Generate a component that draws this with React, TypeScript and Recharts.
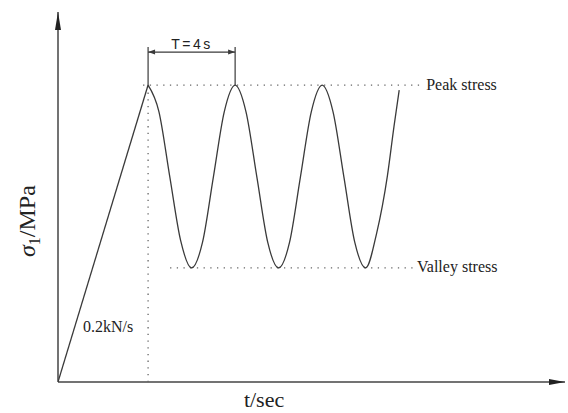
import { LineChart, Line, XAxis, YAxis, ReferenceLine, ReferenceDot } from "recharts"

// loading ramp (0.2kN/s) up to the first peak
const rampTime = [0, 4.14]
const rampStress = [0, 100]

// cyclic part, T = 4 s
const waveTime = [
  4.14, 4.64, 5.14, 5.64, 6.14, 6.64, 7.14, 7.64,
  8.14, 8.64, 9.14, 9.64, 10.14, 10.64, 11.14, 11.64,
  12.14, 12.64, 13.14, 13.64, 14.14, 14.64, 15.14, 15.44, 15.68,
]
const waveStress = [
  100, 91, 69, 47.5, 38.4, 47, 69, 91,
  100, 91, 69, 47, 38.4, 47, 69, 91,
  100, 91, 69, 47, 38.4, 50, 69.5, 86, 98.3,
]

const peakStress = 100
const valleyStress = 38.4
const periodStart = 4.14
const periodEnd = 8.14

const rampData = rampTime.map((t, i) => ({ t, s: rampStress[i] }))
const waveData = waveTime.map((t, i) => ({ t, s: waveStress[i] }))

const X_MAX = 23.3
const Y_MAX = 124.6

const ink = "#3a3a3a"
const dots = "#666"
const serif = "'Liberation Serif', 'Times New Roman', serif"

const label = (content: (cx: number, cy: number) => any) => (p: any) => content(p.cx, p.cy)

export default function App() {
  return (
    <div style={{ position: "absolute", left: 0, top: 0, background: "#fff" }}>
      <LineChart
        width={568}
        height={413}
        margin={{ top: 12, right: 3, bottom: 31, left: 58 }}
      >
        <XAxis dataKey="t" type="number" domain={[0, X_MAX]} hide allowDataOverflow />
        <YAxis type="number" domain={[0, Y_MAX]} hide allowDataOverflow />

        {/* axes */}
        <ReferenceLine segment={[{ x: 0, y: 0 }, { x: X_MAX, y: 0 }]} stroke="#444" strokeWidth={1.5} ifOverflow="visible" />
        <ReferenceLine segment={[{ x: 0, y: 0 }, { x: 0, y: Y_MAX }]} stroke="#444" strokeWidth={1.5} ifOverflow="visible" />
        <ReferenceDot x={0} y={Y_MAX} ifOverflow="visible"
          shape={label((cx, cy) => <polygon points={`${cx},${cy} ${cx - 3},${cy + 18} ${cx + 3},${cy + 18}`} fill="#222" />)} />
        <ReferenceDot x={X_MAX} y={0} ifOverflow="visible"
          shape={label((cx, cy) => <polygon points={`${cx},${cy} ${cx - 16},${cy - 3} ${cx - 16},${cy + 3}`} fill="#222" />)} />

        {/* guide lines */}
        <ReferenceLine segment={[{ x: 3.91, y: peakStress }, { x: 16.78, y: peakStress }]} stroke={dots} strokeWidth={1.3} strokeDasharray="1.3 5.4" />
        <ReferenceLine segment={[{ x: 5.15, y: valleyStress }, { x: 16.41, y: valleyStress }]} stroke={dots} strokeWidth={1.3} strokeDasharray="1.3 5.4" />
        <ReferenceLine segment={[{ x: periodStart, y: 0 }, { x: periodStart, y: peakStress }]} stroke={dots} strokeWidth={1.3} strokeDasharray="1.3 5.4" />

        {/* period dimension */}
        <ReferenceLine segment={[{ x: periodStart, y: peakStress }, { x: periodStart, y: 112.8 }]} stroke={ink} strokeWidth={1.2} ifOverflow="visible" />
        <ReferenceLine segment={[{ x: periodEnd, y: peakStress }, { x: periodEnd, y: 112.8 }]} stroke={ink} strokeWidth={1.2} ifOverflow="visible" />
        <ReferenceLine segment={[{ x: periodStart, y: 111.1 }, { x: periodEnd, y: 111.1 }]} stroke={ink} strokeWidth={1.2} ifOverflow="visible" />
        <ReferenceDot x={periodStart} y={111.1} ifOverflow="visible"
          shape={label((cx, cy) => <polygon points={`${cx},${cy} ${cx + 7},${cy - 2.5} ${cx + 7},${cy + 2.5}`} fill={ink} />)} />
        <ReferenceDot x={periodEnd} y={111.1} ifOverflow="visible"
          shape={label((cx, cy) => <polygon points={`${cx},${cy} ${cx - 7},${cy - 2.5} ${cx - 7},${cy + 2.5}`} fill={ink} />)} />
        <ReferenceDot x={6.16} y={112} ifOverflow="visible"
          shape={label((cx, cy) => (
            <text x={cx} y={cy} textAnchor="middle" fontFamily="'Liberation Sans', Arial, sans-serif" fontSize={14} letterSpacing={2.5} fill="#222">T=4s</text>
          ))} />

        <Line data={rampData} dataKey="s" type="linear" stroke={ink} strokeWidth={1.3} dot={false} isAnimationActive={false} />
        <Line data={waveData} dataKey="s" type="monotone" stroke={ink} strokeWidth={1.3} dot={false} isAnimationActive={false} />

        {/* annotations */}
        <ReferenceDot x={16.92} y={98.3} ifOverflow="visible"
          shape={label((cx, cy) => <text x={cx} y={cy} fontFamily={serif} fontSize={16} fill="#222">Peak stress</text>)} />
        <ReferenceDot x={16.5} y={37.0} ifOverflow="visible"
          shape={label((cx, cy) => <text x={cx} y={cy} fontFamily={serif} fontSize={16} fill="#222">Valley stress</text>)} />
        <ReferenceDot x={1.15} y={16.8} ifOverflow="visible"
          shape={label((cx, cy) => <text x={cx} y={cy} fontFamily={serif} fontSize={16} fill="#222">0.2kN/s</text>)} />

        {/* axis titles */}
        <ReferenceDot x={9.47} y={-8.4} ifOverflow="visible"
          shape={label((cx, cy) => <text x={cx} y={cy} textAnchor="middle" fontFamily={serif} fontSize={22} fill="#222">t/sec</text>)} />
        <ReferenceDot x={-1.05} y={54.2} ifOverflow="visible"
          shape={label((cx, cy) => (
            <text x={cx} y={cy} textAnchor="middle" transform={`rotate(-90 ${cx} ${cy})`} fontFamily={serif} fontSize={24} fill="#222">
              <tspan fontStyle="italic">σ</tspan>
              <tspan fontSize={16} dy={5}>1</tspan>
              <tspan dy={-5}>/MPa</tspan>
            </text>
          ))} />
      </LineChart>
    </div>
  )
}
